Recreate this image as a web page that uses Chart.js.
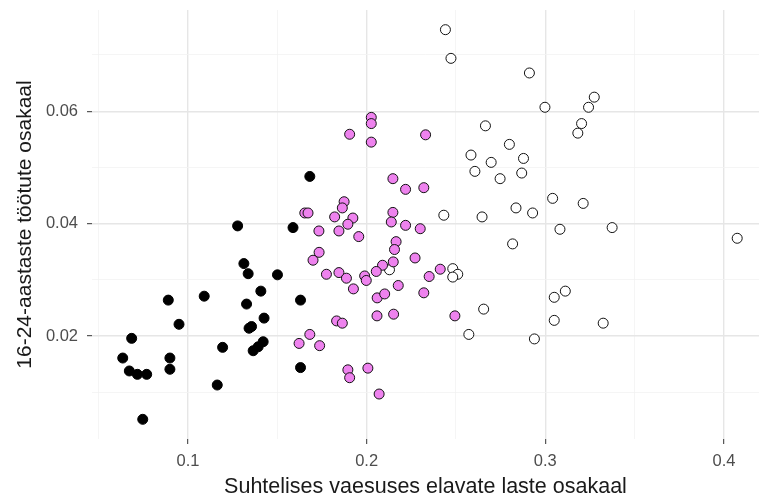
<!DOCTYPE html>
<html>
<head>
<meta charset="utf-8">
<script src="https://cdn.jsdelivr.net/npm/chart.js@4.4.1/dist/chart.umd.min.js"></script>
<style>
  html, body { margin: 0; padding: 0; background: #fff; }
  #wrap { width: 765px; height: 503px; position: relative; }
</style>
</head>
<body>
<div id="wrap"><canvas id="scatter"></canvas></div>
<script>
// cluster 1 (black)
const blackX = [0.0635, 0.0672, 0.0717, 0.0769, 0.0685, 0.0747, 0.0890, 0.0899, 0.0899, 0.0950,
  0.1091, 0.1164, 0.1194, 0.1278, 0.1313, 0.1337, 0.1328, 0.1342, 0.1356, 0.1365,
  0.1393, 0.1421, 0.1408, 0.1426, 0.1501, 0.1588, 0.1630, 0.1630, 0.1682];
const blackY = [0.0161, 0.0138, 0.0132, 0.0132, 0.0196, 0.0052, 0.0264, 0.0161, 0.0141, 0.0221,
  0.0271, 0.0113, 0.0180, 0.0396, 0.0329, 0.0311, 0.0257, 0.0214, 0.0217, 0.0174,
  0.0181, 0.0190, 0.0280, 0.0232, 0.0309, 0.0393, 0.0264, 0.0144, 0.0484];

// cluster 2 (violet)
const violetX = [0.2026, 0.2026, 0.1905, 0.2026, 0.2330, 0.2147, 0.2218, 0.2320, 0.1874, 0.1864,
  0.1654, 0.1672, 0.1821, 0.1923, 0.1895, 0.2147, 0.2138, 0.2218, 0.2300, 0.1733,
  0.1845, 0.1956, 0.2165, 0.2156, 0.1734, 0.1700, 0.2271, 0.2149, 0.2089, 0.2054,
  0.1989, 0.1998, 0.1775, 0.1845, 0.1887, 0.1926, 0.2177, 0.2350, 0.2412, 0.2320,
  0.2059, 0.2101, 0.2058, 0.2151, 0.2494, 0.1832, 0.1864, 0.1682, 0.1622, 0.1737,
  0.1895, 0.1905, 0.2007, 0.2070];
const violetY = [0.0589, 0.0578, 0.0559, 0.0545, 0.0558, 0.0480, 0.0461, 0.0464, 0.0439, 0.0428,
  0.0419, 0.0419, 0.0412, 0.0410, 0.0399, 0.0420, 0.0403, 0.0397, 0.0391, 0.0387,
  0.0387, 0.0377, 0.0368, 0.0354, 0.0349, 0.0335, 0.0339, 0.0332, 0.0326, 0.0315,
  0.0307, 0.0299, 0.0310, 0.0313, 0.0303, 0.0284, 0.0290, 0.0306, 0.0319, 0.0277,
  0.0268, 0.0275, 0.0236, 0.0239, 0.0236, 0.0227, 0.0223, 0.0203, 0.0187, 0.0183,
  0.0140, 0.0126, 0.0143, 0.0097];

// cluster 3 (open)
const openX = [0.2441, 0.2472, 0.2911, 0.2998, 0.3274, 0.3242, 0.3203, 0.3182, 0.2665, 0.2799,
  0.2584, 0.2697, 0.2878, 0.2606, 0.2747, 0.2868, 0.3041, 0.3212, 0.2836, 0.2929,
  0.2432, 0.2646, 0.3082, 0.3374, 0.4074, 0.2817, 0.2482, 0.2510, 0.2482, 0.3112,
  0.3050, 0.3050, 0.3324, 0.2655, 0.2572, 0.2939, 0.2128];
const openY = [0.0745, 0.0694, 0.0668, 0.0607, 0.0625, 0.0607, 0.0578, 0.0561, 0.0574, 0.0541,
  0.0522, 0.0509, 0.0516, 0.0493, 0.0480, 0.0490, 0.0445, 0.0436, 0.0428, 0.0419,
  0.0415, 0.0412, 0.0390, 0.0393, 0.0374, 0.0364, 0.0320, 0.0310, 0.0305, 0.0280,
  0.0269, 0.0228, 0.0223, 0.0248, 0.0203, 0.0195, 0.0318];

const xTicks = [0.05, 0.1, 0.15, 0.2, 0.25, 0.3, 0.35, 0.4];
const xTickLabels = ['', '0.1', '', '0.2', '', '0.3', '', '0.4'];
const yTicks = [0.01, 0.02, 0.03, 0.04, 0.05, 0.06, 0.07];
const yTickLabels = ['', '0.02', '', '0.04', '', '0.06', ''];

function toPoints(xs, ys) {
  return xs.map((x, i) => ({ x: x, y: ys[i] }));
}

function gridFor(labels) {
  return {
    drawTicks: true,
    tickLength: 5,
    color: (c) => labels[c.index] ? '#e6e6e6' : '#f3f3f3',
    lineWidth: (c) => labels[c.index] ? 1.4 : 0.8,
    tickColor: (c) => labels[c.index] ? '#333333' : 'rgba(0,0,0,0)',
    tickWidth: 1
  };
}

const font = 'Liberation Sans, Arial, sans-serif';

new Chart(document.getElementById('scatter'), {
  type: 'scatter',
  data: {
    datasets: [
      { data: toPoints(blackX, blackY), backgroundColor: '#000', borderColor: '#000' },
      { data: toPoints(violetX, violetY), backgroundColor: '#ee82ee', borderColor: '#111' },
      { data: toPoints(openX, openY), backgroundColor: '#fff', borderColor: '#111' }
    ]
  },
  options: {
    responsive: true,
    maintainAspectRatio: false,
    animation: false,
    layout: { padding: { top: 10, right: 5, left: 0, bottom: 0 } },
    elements: { point: { radius: 5, borderWidth: 1, hoverRadius: 5 } },
    plugins: { legend: { display: false }, tooltip: { enabled: false } },
    scales: {
      x: {
        type: 'linear',
        min: 0.0463,
        max: 0.4196,
        border: { display: false },
        grid: gridFor(xTickLabels),
        afterBuildTicks: (s) => { s.ticks = xTicks.map(v => ({ value: v })); },
        afterFit: (s) => { s.height = 64; s.paddingLeft = 0; s.paddingRight = 0; },
        ticks: {
          autoSkip: false,
          maxRotation: 0,
          padding: 8,
          color: '#4d4d4d',
          font: { family: font, size: 16.5 },
          callback: (v, i) => xTickLabels[i]
        },
        title: {
          display: true,
          text: 'Suhtelises vaesuses elavate laste osakaal',
          color: '#1a1a1a',
          font: { family: font, size: 21.5 },
          padding: { top: 0, bottom: 3 }
        }
      },
      y: {
        type: 'linear',
        min: 0.0017,
        max: 0.078,
        border: { display: false },
        grid: gridFor(yTickLabels),
        afterBuildTicks: (s) => { s.ticks = yTicks.map(v => ({ value: v })); },
        afterFit: (s) => { s.width = 92; s.paddingTop = 0; s.paddingBottom = 0; },
        ticks: {
          autoSkip: false,
          padding: 9,
          color: '#4d4d4d',
          font: { family: font, size: 16.5 },
          callback: (v, i) => yTickLabels[i]
        },
        title: {
          display: true,
          text: '16-24-aastaste töötute osakaal',
          color: '#1a1a1a',
          font: { family: font, size: 21 },
          padding: { top: 13, bottom: 0 }
        }
      }
    }
  }
});
</script>
</body>
</html>
